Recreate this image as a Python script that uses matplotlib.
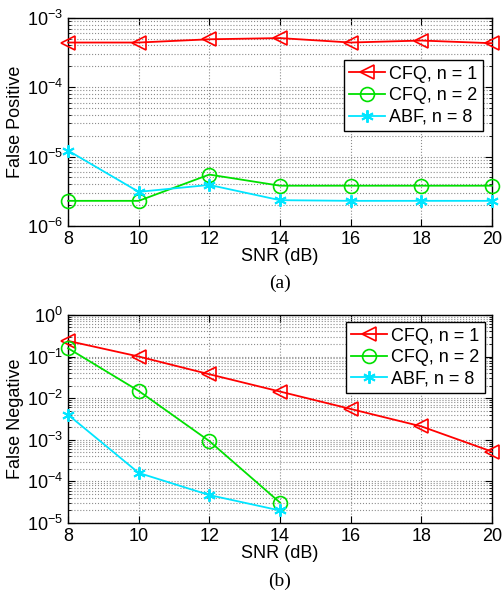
# two-panel FP / FN vs SNR, MATLAB-ish look
import matplotlib
matplotlib.use("Agg")
import matplotlib.pyplot as plt
import matplotlib.ticker as mticker

plt.rcParams['font.family'] = ['Liberation Sans', 'DejaVu Sans']
plt.rcParams['mathtext.fontset'] = 'custom'
plt.rcParams['mathtext.rm'] = 'Liberation Sans'

snr = [8, 10, 12, 14, 16, 18, 20]
snr_short = [8, 10, 12, 14]

fp_cfq1 = [4.4e-4, 4.4e-4, 4.9e-4, 5.1e-4, 4.4e-4, 4.7e-4, 4.3e-4]
fp_cfq2 = [2.3e-6, 2.3e-6, 5.5e-6, 3.8e-6, 3.8e-6, 3.8e-6, 3.8e-6]
fp_abf8 = [1.22e-5, 3.1e-6, 3.9e-6, 2.35e-6, 2.3e-6, 2.3e-6, 2.3e-6]

fn_cfq1 = [0.237, 0.1, 0.0375, 0.0144, 0.0055, 0.0021, 5.2e-4]
fn_cfq2 = [0.158, 0.0149, 9.3e-4, 3.1e-5]
fn_abf8 = [4.0e-3, 1.6e-4, 4.7e-5, 2.0e-5]

labels = ['CFQ, n = 1', 'CFQ, n = 2', 'ABF, n = 8']

fig = plt.figure(figsize=(5.04, 5.93), dpi=100)


def style_axes(ax, ylo, yhi):
    ax.set_yscale('log')
    ax.set_xlim(8, 20)
    ax.set_ylim(ylo, yhi)
    ax.set_xticks(snr)
    ax.yaxis.set_major_locator(mticker.LogLocator(base=10, numticks=10))
    ax.yaxis.set_minor_locator(mticker.LogLocator(base=10, subs=range(2, 10), numticks=10))
    ax.yaxis.set_minor_formatter(mticker.NullFormatter())
    ax.grid(True, which='both', linestyle=':', color='0.55', linewidth=0.8)
    ax.tick_params(which='both', direction='in', top=True, right=True, labelsize=13)
    ax.tick_params(which='major', length=5)
    ax.tick_params(which='minor', length=2.5)
    for s in ax.spines.values():
        s.set_linewidth(1.0)
    ax.set_xlabel('SNR (dB)', fontsize=13, labelpad=0)


def draw(ax, x1, y1, x2, y2, x3, y3):
    ax.plot(x1, y1, color='red', marker='<', markersize=10, markerfacecolor='none',
            markeredgewidth=1.2, linewidth=1.3, label=labels[0], clip_on=False, zorder=5)
    ax.plot(x2, y2, color='#00e000', marker='o', markersize=10, markerfacecolor='none',
            markeredgewidth=1.2, linewidth=1.3, label=labels[1], clip_on=False, zorder=5)
    ax.plot(x3, y3, color='#00e5ff', marker=(6, 2, 0), markersize=9, markeredgewidth=1.4,
            linewidth=1.3, label=labels[2], clip_on=False, zorder=5)
    leg = ax.legend(loc='upper right', fontsize=13, fancybox=False, framealpha=1,
                    edgecolor='black', handlelength=2.0, handletextpad=0.2,
                    labelspacing=0.25, borderpad=0.3, borderaxespad=0.4)
    leg.get_frame().set_linewidth(1.0)


ax1 = fig.add_axes([0.135, 0.619, 0.841, 0.351])
style_axes(ax1, 1e-6, 1e-3)
draw(ax1, snr, fp_cfq1, snr, fp_cfq2, snr, fp_abf8)
ax1.set_ylabel('False Positive', fontsize=13, labelpad=2)
ax1.legend_.set_bbox_to_anchor((0.995, 0.83))
fig.text(0.555, 0.522, '(a)', family='Liberation Serif', fontsize=14, ha='center', va='center')

ax2 = fig.add_axes([0.135, 0.118, 0.841, 0.351])
style_axes(ax2, 1e-5, 1e0)
draw(ax2, snr, fn_cfq1, snr_short, fn_cfq2, snr_short, fn_abf8)
ax2.set_ylabel('False Negative', fontsize=13, labelpad=2)
fig.text(0.555, 0.019, '(b)', family='Liberation Serif', fontsize=14, ha='center', va='center')

fig.savefig('out.png', dpi=100)
